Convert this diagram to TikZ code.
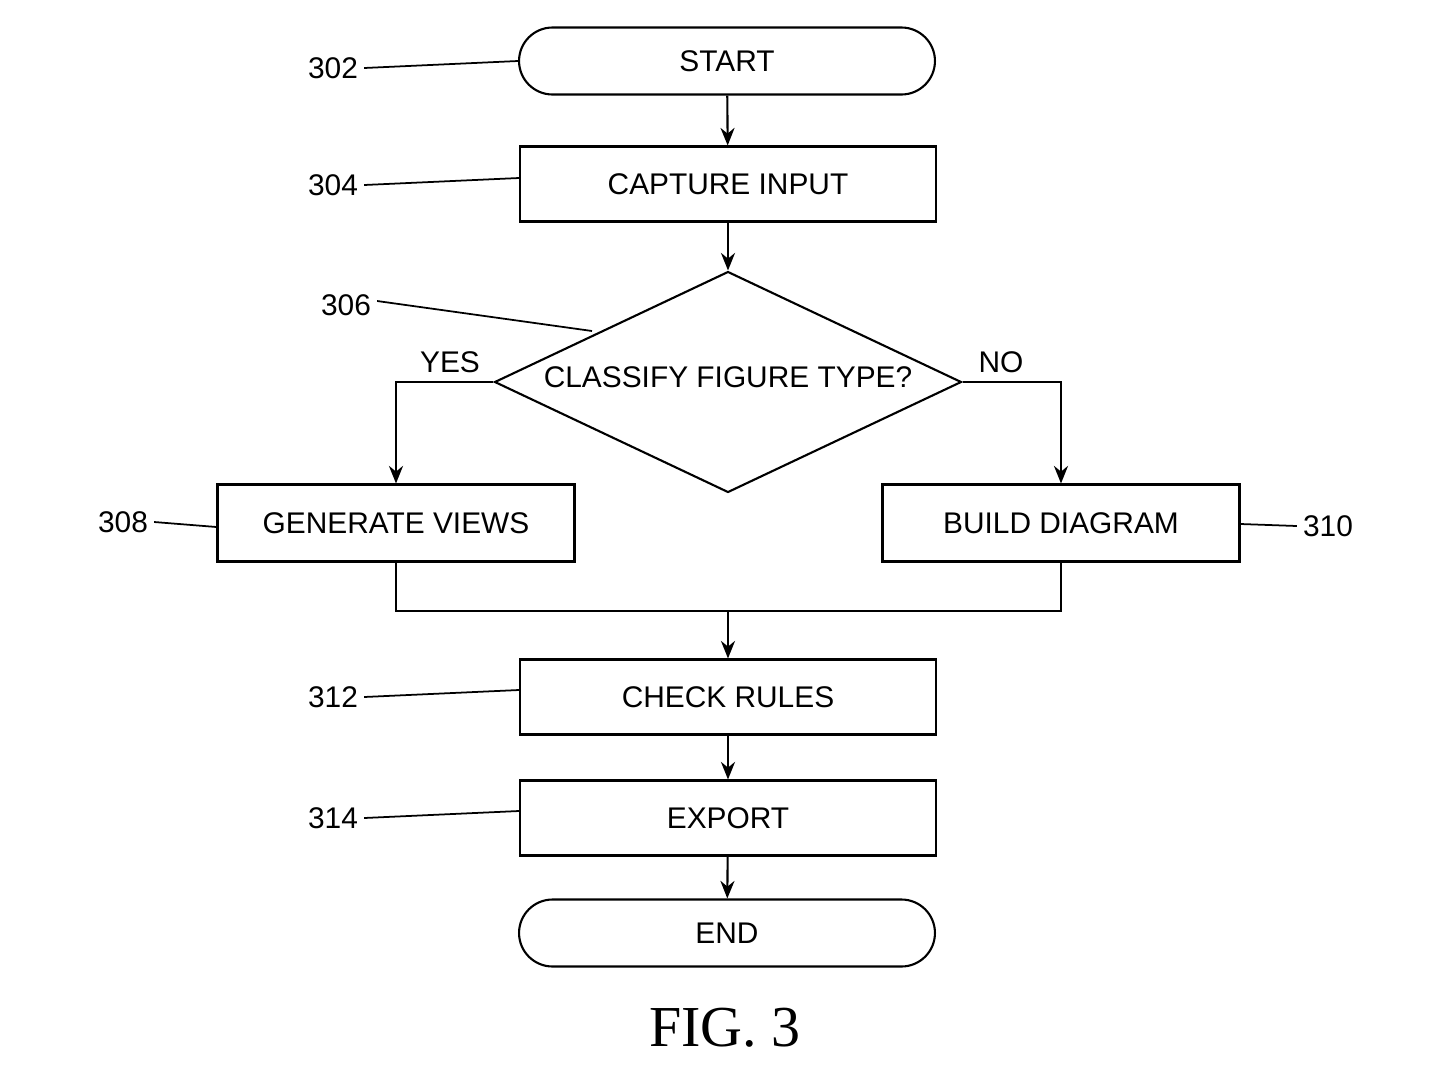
\documentclass[tikz,border=0pt]{standalone}
\usepackage{fontspec}
\setmainfont{Liberation Sans}
\newfontfamily\figfont{Liberation Serif}
\usetikzlibrary{shapes.geometric,arrows.meta}
\tikzset{
	box/.style={draw, line width=1.2pt, minimum width=8.32cm, minimum height=1.5cm, inner sep=0pt, font=\fontsize{17}{20}\selectfont},
	sidebox/.style={box, minimum width=7.14cm, minimum height=1.54cm},
	term/.style={box, rounded corners=0.67cm, minimum height=1.34cm},
	decision/.style={draw, diamond, line width=1.2pt, aspect=2.1, minimum width=9.34cm, minimum height=4.42cm, inner sep=0pt, font=\fontsize{17}{20}\selectfont},
	flow/.style={line width=1.2pt, -{Stealth[length=10pt,width=8pt]}},
	lead/.style={line width=1pt},
	ref/.style={font=\fontsize{17}{20}\selectfont},
}
\begin{document}
\begin{tikzpicture}[x=0.02cm, y=-0.02cm]
	\useasboundingbox (0,0) rectangle (1448,1086);

	\node[term] (start) at (727,61) {\raisebox{-0.1cm}{START}};
	\node[box] (capture) at (728,184) {CAPTURE INPUT};
	\node[decision] (classify) at (728,382) {\raisebox{0.2cm}{CLASSIFY FIGURE TYPE?}};
	\node[sidebox] (views) at (396,523) {GENERATE VIEWS};
	\node[sidebox] (build) at (1061,523) {BUILD DIAGRAM};
	\coordinate (merge) at (728,611);
	\node[box] (rules) at (728,697) {CHECK RULES};
	\node[box] (export) at (728,818) {EXPORT};
	\node[term] (end) at (727,933) {END};
	\node[font=\figfont\fontsize{33}{38}\selectfont] (fig) at (725,1028) {FIG. 3};

	% flow
	\draw[flow] (start) -- (capture);
	\draw[flow] (capture) -- (classify);
	\draw[flow] (classify.west) -| (views.north);
	\draw[flow] (classify.east) -| (build.north);
	\draw[line width=1.2pt] (views.south) |- (merge) -| (build.south);
	\draw[flow] (merge) -- (rules);
	\draw[flow] (rules) -- (export);
	\draw[flow] (export) -- (end);

	\node[ref] (yes) at (450,362) {YES};
	\node[ref] (no) at (1001,362) {NO};

	% reference numerals
	\node[ref] (n302) at (333,68) {302};
	\node[ref] (n304) at (333,185) {304};
	\node[ref] (n306) at (346,305) {306};
	\node[ref] (n308) at (123,522) {308};
	\node[ref] (n310) at (1328,526) {310};
	\node[ref] (n312) at (333,697) {312};
	\node[ref] (n314) at (333,818) {314};
	\coordinate (t306) at (592,331);
	\draw[lead] (n302.east) -- (start.west);
	\draw[lead] (n304.east) -- ([yshift=0.12cm]capture.west);
	\draw[lead] ([yshift=0.08cm]n306.east) -- (t306);
	\draw[lead] (n308.east) -- ([yshift=-0.08cm]views.west);
	\draw[lead] ([yshift=-0.02cm]build.east) -- (n310.west);
	\draw[lead] (n312.east) -- ([yshift=0.14cm]rules.west);
	\draw[lead] (n314.east) -- ([yshift=0.14cm]export.west);
\end{tikzpicture}
\end{document}
